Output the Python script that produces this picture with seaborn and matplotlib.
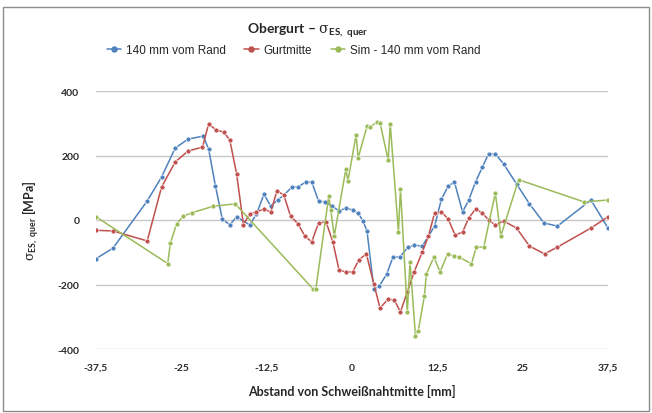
import pandas as pd
import matplotlib
matplotlib.use("Agg")
import matplotlib.pyplot as plt
import seaborn as sns
from matplotlib.lines import Line2D
from matplotlib.patches import Rectangle

# Data (x in mm, y in MPa)
blue_x = [-37.5, -35.0, -30.0, -27.9, -25.9, -24.0, -21.8, -21.0, -20.0, -19.0,
          -17.9, -16.9, -15.0, -14.0, -12.9, -11.9, -10.9, -10.0, -8.8, -7.9,
          -6.8, -5.9, -4.9, -4.0, -2.9, -1.9, -0.9, 0.1, 0.9, 1.6,
          2.2, 3.2, 4.0, 5.1, 6.0, 7.0, 8.2, 9.1, 10.3, 11.2,
          12.1, 13.1, 14.1, 15.0, 16.2, 17.1, 18.1, 19.1, 20.0, 21.0,
          22.2, 24.1, 26.0, 28.1, 30.1, 35.0, 37.5]
blue_y = [-120, -87, 59, 133, 223, 251, 260, 220, 105, 3,
          -15, 10, -15, 18, 80, 43, 62, 77, 102, 102,
          118, 118, 59, 56, 43, 28, 37, 31, 22, -3,
          -34, -214, -205, -167, -115, -115, -84, -78, -81, -50,
          -19, 65, 105, 118, 25, 62, 118, 164, 205, 205,
          174, 112, 50, -9, -19, 62, -25]

red_x = [-37.5, -35.0, -30.0, -27.9, -25.9, -24.0, -21.9, -21.0, -19.9, -18.8,
         -17.9, -16.9, -15.9, -15.0, -14.0, -12.9, -11.9, -11.0, -10.0, -9.0,
         -7.9, -6.9, -5.9, -4.9, -3.8, -2.8, -1.9, -0.9, 0.1, 1.0,
         2.1, 3.2, 4.1, 5.3, 6.2, 7.1, 8.1, 9.1, 10.3, 11.2,
         12.1, 13.1, 14.1, 15.1, 16.2, 17.1, 18.1, 19.1, 20.0, 21.0,
         22.2, 24.1, 26.0, 28.2, 30.1, 35.0, 37.5]
red_y = [-32, -34, -65, 102, 180, 214, 226, 298, 279, 273,
         248, 143, -15, 19, 25, 34, 25, 90, 78, 12,
         -12, -50, -68, -9, -6, -68, -155, -161, -161, -124,
         -105, -198, -273, -245, -248, -285, -223, -161, -99, -50,
         22, 25, 3, -47, -37, 6, 34, 22, 0, -16,
         -3, -25, -81, -105, -84, -25, 10]

green_x = [-37.5, -27.0, -26.6, -25.7, -24.7, -23.5, -20.3, -17.1, -5.7, -5.3,
           -3.4, -3.1, -2.6, -0.9, -0.6, 0.6, 0.9, 2.2, 2.6, 3.7,
           4.1, 5.3, 5.6, 6.8, 7.1, 8.1, 8.5, 9.3, 9.7, 10.6,
           10.9, 12.0, 12.9, 14.0, 15.0, 15.7, 17.5, 18.2, 19.3, 21.0,
           21.8, 24.4, 34.0, 37.5]
green_y = [10, -135, -72, -12, 12, 22, 43, 50, -214, -214,
           74, 30, -50, 158, 121, 264, 192, 291, 288, 304,
           301, 186, 298, -37, 96, -285, -130, -360, -344, -236,
           -167, -115, -161, -105, -112, -115, -136, -84, -84, 84,
           -50, 125, 56, 62]

series_names = ["140 mm vom Rand", "Gurtmitte", "Sim - 140 mm vom Rand"]
colors = ["#4F81BD", "#C0504D", "#9BBB59"]

x_ticks = [-37.5, -25, -12.5, 0, 12.5, 25, 37.5]
x_ticklabels = ["-37,5", "-25", "-12,5", "0", "12,5", "25", "37,5"]
y_ticks = [-400, -200, 0, 200, 400]
y_ticklabels = ["-400", "-200", "0", "200", "400"]


def main():
    frames = []
    for name, xs, ys in zip(series_names, [blue_x, red_x, green_x],
                            [blue_y, red_y, green_y]):
        frames.append(pd.DataFrame({"x": xs, "y": ys, "Serie": name}))
    df = pd.concat(frames, ignore_index=True)

    sns.set_style("white")
    plt.rcParams["font.family"] = ["Liberation Sans", "DejaVu Sans"]
    plt.rcParams["mathtext.fontset"] = "custom"
    plt.rcParams["mathtext.rm"] = "Lato"
    plt.rcParams["mathtext.bf"] = "Lato:bold"
    plt.rcParams["mathtext.it"] = "DejaVu Serif"

    fig = plt.figure(figsize=(6.52, 4.14), dpi=100)
    ax = fig.add_axes([96 / 652, 64 / 414, 512 / 652, 258 / 414])

    sns.lineplot(data=df, x="x", y="y", hue="Serie", hue_order=series_names,
                 palette=colors, marker="o", markersize=3.6, linewidth=1.1,
                 markeredgewidth=0.5, sort=False, estimator=None,
                 legend=False, ax=ax)

    ax.set_xlim(-37.5, 37.5)
    ax.set_ylim(-400, 400)
    ax.set_xticks(x_ticks)
    ax.set_xticklabels(x_ticklabels, fontfamily="Lato", fontweight="bold",
                       fontsize=7.5, color="#2a2a2a")
    ax.set_yticks(y_ticks)
    ax.set_yticklabels(y_ticklabels, fontfamily="Lato", fontweight="bold",
                       fontsize=7.5, color="#2a2a2a")
    ax.tick_params(axis="x", length=0, pad=10)
    ax.tick_params(axis="y", length=0, pad=12)
    ax.grid(axis="y", color="#c8c8c8", linewidth=1.0)
    ax.set_axisbelow(True)
    for s in ax.spines.values():
        s.set_visible(False)

    ax.set_xlabel("Abstand von Schweißnahtmitte [mm]", fontfamily="Lato",
                  fontweight="bold", fontsize=9, labelpad=9)
    ax.set_ylabel(r"$\sigma_{\mathbf{ES,\ quer}}$ [MPa]", fontfamily="Lato",
                  fontweight="bold", fontsize=9, labelpad=12)

    fig.text(0.472, 1 - 30 / 414, r"Obergurt – $\sigma_{\mathbf{ES,\ quer}}$",
             ha="center", va="center", fontfamily="Lato", fontweight="bold",
             fontsize=10)

    handles = [Line2D([0], [0], color=c, marker="o", markersize=3.6,
                      linewidth=1.1) for c in colors]
    fig.legend(handles, series_names, loc="center", ncol=3,
               bbox_to_anchor=(0.45, 1 - 51 / 414), frameon=False,
               fontsize=8.5, handlelength=1.2, handletextpad=0.4,
               columnspacing=1.6)

    # Outer chart frame
    fig.patches.append(Rectangle((3 / 652, 2 / 414), 646 / 652, 404 / 414,
                                 transform=fig.transFigure, fill=False,
                                 edgecolor="#8c8c8c", linewidth=1.0))

    fig.savefig("out.png", dpi=100)


if __name__ == "__main__":
    main()
